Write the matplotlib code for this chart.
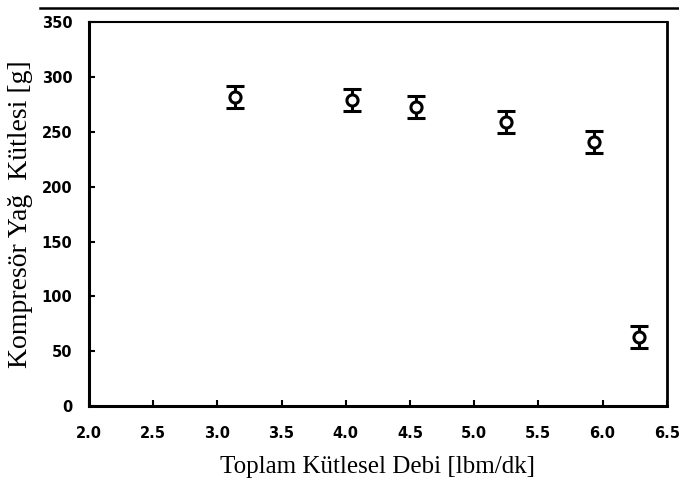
import matplotlib
matplotlib.use('Agg')
import matplotlib.pyplot as plt
from matplotlib.lines import Line2D

# toplam kutlesel debi [lbm/dk] ve kompresor yag kutlesi [g]
debi = [3.14, 4.05, 4.55, 5.25, 5.93, 6.28]
yag_kutlesi = [282, 279, 273, 259, 241, 63]
hata = [10, 10, 10, 10, 10, 10]

xticks = [2.0, 2.5, 3.0, 3.5, 4.0, 4.5, 5.0, 5.5, 6.0, 6.5]
yticks = [0, 50, 100, 150, 200, 250, 300, 350]

fig = plt.figure(figsize=(6.79, 4.80), dpi=100)
ax = fig.add_axes([0.131, 0.154, 0.851, 0.800])

ax.errorbar(debi, yag_kutlesi, yerr=hata, fmt='o', color='black',
            markerfacecolor='white', markeredgecolor='black',
            markersize=8, markeredgewidth=2.2, elinewidth=2.2,
            capsize=6.5, capthick=2.4)

ax.set_xlim(2.0, 6.5)
ax.set_ylim(0, 350)
ax.set_xticks(xticks)
ax.set_xticklabels([f'{v:.1f}' for v in xticks])
ax.set_yticks(yticks)
ax.set_yticklabels([str(v) for v in yticks])

for lbl in ax.get_xticklabels() + ax.get_yticklabels():
    lbl.set_fontweight('bold')
    lbl.set_fontsize(10.5)
    lbl.set_family('DejaVu Sans')

ax.tick_params(direction='in', length=4, width=1.5)
ax.tick_params(axis='x', pad=14)
ax.tick_params(axis='y', pad=12)
ax.spines['left'].set_linewidth(2.2)
ax.spines['bottom'].set_linewidth(2.2)
ax.spines['right'].set_linewidth(2.0)
ax.spines['top'].set_linewidth(1.5)

ax.set_xlabel('Toplam Kütlesel Debi [lbm/dk]', family='Liberation Serif',
              fontsize=18, labelpad=11)
ax.set_ylabel('Kompresör Yağ  Kütlesi [g]', family='Liberation Serif',
              fontsize=20, labelpad=6)

# ust kenar cizgisi
fig.add_artist(Line2D([0.059, 1.0], [0.983, 0.983], color='black',
                      linewidth=1.8, transform=fig.transFigure))

fig.savefig('out.png', dpi=100)
